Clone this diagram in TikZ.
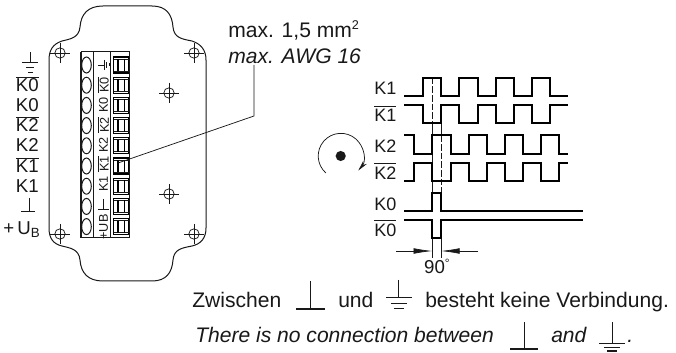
\documentclass[tikz,border=0pt]{standalone}
\usepackage{fontspec}
\setmainfont{Liberation Sans}
\usetikzlibrary{arrows.meta}
\newcommand\ovl[2][1.2pt]{\vbox{\hrule height .55pt \kern #1\hbox{#2}}}
\definecolor{ink}{gray}{0.1}
\tikzset{
 x=0.75pt,y=-0.75pt,
 thinl/.style={line width=0.55pt,draw=ink},
 med/.style={line width=0.75pt,draw=ink},
 wave/.style={line width=1.25pt,draw=black,line join=miter},
 dashl/.style={line width=0.55pt,draw=ink,dash pattern=on 5pt off 1.5pt},
 lab/.style={font=\fontsize{14}{15}\selectfont,text=ink,inner sep=0pt,anchor=base east},
 rlab/.style={font=\fontsize{13.5}{15}\selectfont,text=ink,inner sep=0pt,anchor=base west},
 strip/.style={font=\fontsize{9.5}{10}\selectfont,text=ink,inner sep=0pt,rotate=90,anchor=center},
 body/.style={font=\fontsize{15.8}{18}\selectfont,text=ink,inner sep=0pt,anchor=base west},
 dimarrow/.style={line width=0.5pt,draw=ink,-{Latex[length=14pt,width=4.2pt]}},
}
\begin{document}
\begin{tikzpicture}
\useasboundingbox (0,0) rectangle (676,353);
\fill[white] (0,0) rectangle (676,353);
% housing
\draw[med] (49,60) .. controls (49,50) and (53,44) .. (62,41)
  .. controls (70,39) and (79,38) .. (80,27)
  .. controls (81,14) and (88,6) .. (103,6) -- (152,6)
  .. controls (166,6) and (172,14) .. (173,27)
  .. controls (174,38) and (182,39) .. (192,41)
  .. controls (201,44) and (206,50) .. (206,60)
  -- (206,228)
  .. controls (206,238) and (201,244) .. (192,246)
  .. controls (182,248) and (174,249) .. (173,260)
  .. controls (172,273) and (166,281) .. (152,281) -- (103,281)
  .. controls (88,281) and (81,273) .. (80,260)
  .. controls (79,249) and (70,248) .. (62,246)
  .. controls (53,244) and (49,238) .. (49,228) -- cycle;
% screws
\foreach \sx/\sy in {60/53,194/53,169/93,169/194,60/234,194/234}{
  \draw[thinl] (\sx,\sy) circle[radius=3.9pt];
  \draw[thinl] (\sx-10,\sy) -- (\sx+10,\sy) (\sx,\sy-10) -- (\sx,\sy+10);
}
% terminal strip
\draw[med] (81,52) rectangle (129.3,238);
\draw[med] (93,52) -- (93,238) (110.7,52) -- (110.7,238);
\draw[line width=1.1pt,draw=ink] (81,52) -- (81,238);
\foreach \i in {0,...,8}{
  \pgfmathsetmacro\cy{65+20.2*\i}
  \draw[med] (86.5,\cy) ellipse[x radius=3.6pt,y radius=6pt];
  \draw[line width=1pt,draw=black] (113.5,\cy-8) rectangle (128.7,\cy+8);
  \draw[thinl] (113.5,\cy-6) -- (128.7,\cy-6) (113.5,\cy+6) -- (128.7,\cy+6);
  \draw[line width=0.8pt,draw=black] (118,\cy-6) -- (118,\cy+6) (124.5,\cy-6) -- (124.5,\cy+6);
}
% strip labels
\node[strip] (s1) at (103.5,85) {\ovl[.7pt]{K0}};
\node[strip] (s2) at (103.5,105) {K0};
\node[strip] (s3) at (103.5,125) {\ovl[.7pt]{K2}};
\node[strip] (s4) at (103.5,145) {K2};
\node[strip] (s5) at (103.5,164) {\ovl[.7pt]{K1}};
\node[strip] (s6) at (103.5,184) {K1};
\node[strip] (s7) at (103.5,227) {+UB};
\draw[thinl] (98,65) -- (104,65) (104,60) -- (104,70) (106.5,62) -- (106.5,68) (109,63.5) -- (109,66.5);
\draw[thinl] (98,209) -- (109,209) (103.5,199) -- (103.5,209);
% left labels
\draw[thinl] (30,52) -- (30,62) (22,62) -- (38,62) (26,67) -- (34,67) (28,72) -- (33,72);
\node[lab] (l1) at (39,92) {\ovl{K0}};
\node[lab] (l2) at (39,112) {K0};
\node[lab] (l3) at (39,132) {\ovl{K2}};
\node[lab] (l4) at (39,152) {K2};
\node[lab] (l5) at (39,173) {\ovl{K1}};
\node[lab] (l6) at (39,193) {K1};
\draw[thinl] (29,198) -- (29,211) (21,211) -- (35,211);
\node[lab] (l7) at (40,234) {+\,U\raisebox{-2.5pt}{\fontsize{10}{10}\selectfont B}};
% leader
\coordinate (clamp) at (118,163);
\coordinate (bend) at (254,116);
\coordinate (awg) at (254,65);
\draw[thinl] (clamp) -- (bend) -- (awg);
\node[body] (t1) at (228,38) {max. 1,5 mm\raisebox{6pt}{\fontsize{9.5}{10}\selectfont 2}};
\node[body] (t2) at (228,64) {\itshape max. AWG 16};
% rotation
\fill[ink] (340.7,156) circle[radius=3.8pt];
\draw[thinl,-{Stealth[length=8pt,width=3.5pt]}] (325.9,173) arc[start angle=228.6,end angle=-40,radius=17pt];
% right labels
\node[rlab] (k1) at (374,95) {K1};
\node[rlab] (k1b) at (374,122) {\ovl[2.5pt]{K1}};
\node[rlab] (k2) at (374,153) {K2};
\node[rlab] (k2b) at (374,180) {\ovl[2.5pt]{K2}};
\node[rlab] (k0) at (374,210) {K0};
\node[rlab] (k0b) at (374,237) {\ovl[2.5pt]{K0}};
% guide lines
\draw[dashl] (432.3,77.7) -- (432.3,123);
\draw[thinl] (432.3,123) -- (432.3,192.7);
\draw[thinl] (441,123) -- (441,135.3);
\draw[dashl] (441,135.3) -- (441,192.7);
\draw[thinl] (432.3,238) -- (432.3,258) (441,238) -- (441,258);
% waves
\draw[wave] (404,95.7) -| (422.7,77.7) -| (441,95.7) -| (459.3,77.7) -| (477.7,95.7) -| (495.7,77.7) -| (514,95.7) -| (532,77.7) -| (550,95.7) -- (568,95.7);
\draw[wave] (404,104.7) -| (422.7,123) -| (441,104.7) -| (459.3,123) -| (477.7,104.7) -| (495.7,123) -| (514,104.7) -| (532,123) -| (550,104.7) -- (568,104.7);
\draw[wave] (404,135.3) -| (414,153.7) -| (432.3,135.3) -| (450.7,153.7) -| (468.7,135.3) -| (486.7,153.7) -| (505,135.3) -| (523,153.7) -| (541,135.3) -| (559,153.7) -- (568,153.7);
\draw[wave] (404,180.7) -| (414,163) -| (432.3,180.7) -| (450.7,163) -| (468.7,180.7) -| (486.7,163) -| (505,180.7) -| (523,163) -| (541,180.7) -| (559,163) -- (568,163);
\draw[wave] (404,211) -| (432.3,192.7) -| (441.3,211) -- (583,211);
\draw[wave] (404,220) -| (432.3,238.3) -| (441.3,220) -- (583,220);
% 90 degree dimension
\coordinate (d1) at (396,251);
\coordinate (d2) at (432.3,251);
\coordinate (d3) at (478,251);
\coordinate (d4) at (441,251);
\draw[dimarrow] (d1) -- (d2);
\draw[dimarrow] (d3) -- (d4);
\node[font=\fontsize{14}{15}\selectfont,text=ink,inner sep=0pt,anchor=base] (deg) at (437,273) {90\raisebox{4pt}{\fontsize{9}{9}\selectfont °}};
% bottom text
\node[body] (z1) at (192,307.5) {Zwischen};
\draw[thinl] (310,281) -- (310,309);
\draw[line width=1pt,draw=ink] (296,309) -- (325,309);
\node[body] (z2) at (338,307.5) {und};
\draw[thinl] (398.5,280) -- (398.5,297) (386,297) -- (412,297) (391,303) -- (407,303);
\draw[line width=.9pt,draw=ink] (394,308.5) -- (404,308.5);
\node[body] (z3) at (425,307.5) {besteht keine Verbindung.};
\node[body] (e1) at (195,343) {\itshape There is no connection between};
\draw[thinl] (524,322) -- (524,349);
\draw[line width=1pt,draw=ink] (510,349) -- (538,349);
\node[body] (e2) at (551,343) {\itshape and};
\draw[thinl] (612,322) -- (612,343) (599,343) -- (625,343) (604,347) -- (620,347);
\draw[line width=.9pt,draw=ink] (607,351) -- (617,351);
\node[body] (e3) at (627,343) {\itshape .};
\end{tikzpicture}
\end{document}
